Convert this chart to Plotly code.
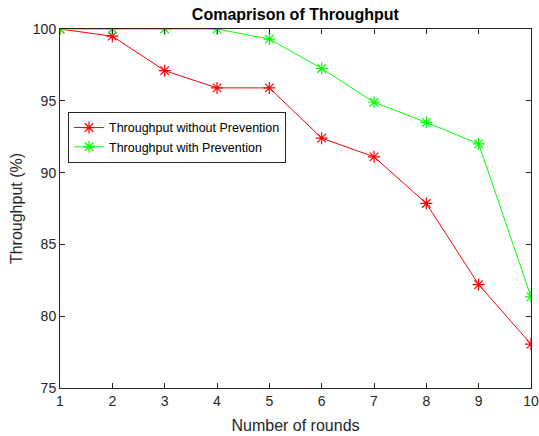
import plotly.graph_objects as go

rounds = [1, 2, 3, 4, 5, 6, 7, 8, 9, 10]
without_prev = [100.0, 99.5, 97.1, 95.9, 95.9, 92.4, 91.1, 87.85, 82.2, 78.05]
with_prev = [100.0, 100.0, 100.0, 100.0, 99.3, 97.25, 94.9, 93.5, 92.0, 81.35]

FONT = "Liberation Sans, Arial, sans-serif"

fig = go.Figure()
fig.add_trace(go.Scatter(
    x=rounds, y=without_prev, mode="lines+markers",
    name="Throughput without Prevention",
    line=dict(color="#ff0000", width=1),
    marker=dict(symbol="asterisk-open", size=10, color="#ff0000",
                line=dict(color="#ff0000", width=1.2)),
))
fig.add_trace(go.Scatter(
    x=rounds, y=with_prev, mode="lines+markers",
    name="Throughput with Prevention",
    line=dict(color="#00ff00", width=1),
    marker=dict(symbol="asterisk-open", size=10, color="#00ff00",
                line=dict(color="#00ff00", width=1.2)),
))

axis_common = dict(
    showgrid=False, zeroline=False, showline=True, linecolor="#262626",
    linewidth=1, mirror="ticks", ticks="inside", ticklen=5,
    tickcolor="#262626", tickfont=dict(family=FONT, size=14, color="#262626"),
    automargin=False,
)

fig.update_layout(
    width=539, height=436,
    margin=dict(l=60, r=8, t=29, b=48),
    paper_bgcolor="white", plot_bgcolor="white",
    title=dict(text="<b>Comaprison of Throughput</b>", x=0.548, xanchor="center",
               y=0.966, yanchor="middle",
               font=dict(family=FONT, size=16, color="black")),
    xaxis=dict(range=[1, 10], tickvals=rounds,
               title=dict(text="Number of rounds", standoff=12,
                          font=dict(family=FONT, size=16, color="#262626")),
               **axis_common),
    yaxis=dict(range=[75, 100], tickvals=[75, 80, 85, 90, 95, 100],
               title=dict(text="Throughput (%)", standoff=6,
                          font=dict(family=FONT, size=16, color="#262626")),
               **axis_common),
    legend=dict(x=0.017, y=0.698, xanchor="left", yanchor="middle",
                bgcolor="white", bordercolor="#262626", borderwidth=1,
                font=dict(family=FONT, size=12.5, color="black"),
                tracegroupgap=0, itemwidth=30),
    showlegend=True,
)

fig.write_html("out.html")
